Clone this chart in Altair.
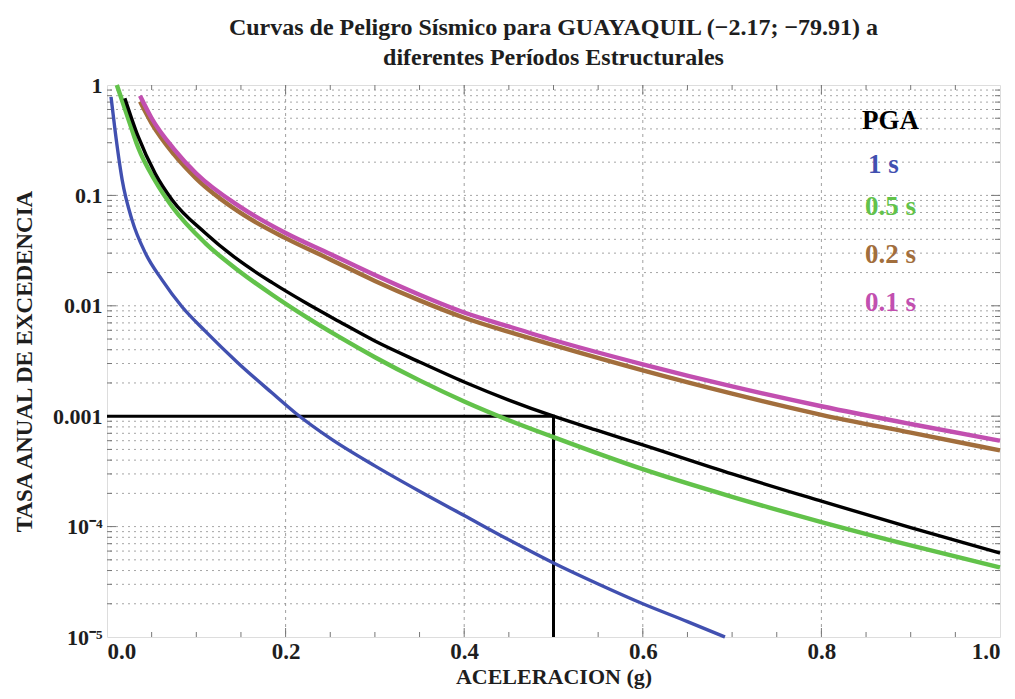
import math
import altair as alt
import pandas as pd

# ---------------- data ----------------
x_1s = [0.0045, 0.009, 0.017, 0.028, 0.043, 0.062, 0.084, 0.11, 0.147, 0.185, 0.211,
        0.25, 0.3, 0.35, 0.4, 0.45, 0.5, 0.55, 0.6, 0.65, 0.692]
y_1s = [0.78, 0.39, 0.138, 0.060, 0.030, 0.017, 0.0098, 0.00589, 0.00302, 0.00162, 0.00107,
        0.00063, 0.000355, 0.000209, 0.000126, 0.0000759, 0.0000468, 0.0000302, 0.00002, 0.0000138, 0.00001]

x_05s = [0.011, 0.024, 0.035, 0.054, 0.073, 0.11, 0.147, 0.185, 0.222, 0.26, 0.3, 0.35,
         0.4, 0.45, 0.5, 0.6, 0.7, 0.8, 0.9, 1.0]
y_05s = [1.0, 0.49, 0.27, 0.135, 0.079, 0.037, 0.0209, 0.0126, 0.00802, 0.00522, 0.00342, 0.00211,
         0.00136, 0.00092, 0.000646, 0.000331, 0.000186, 0.00011, 0.0000676, 0.0000427]

x_pga = [0.02, 0.035, 0.054, 0.073, 0.11, 0.147, 0.185, 0.222, 0.26, 0.3, 0.35, 0.4,
         0.45, 0.5, 0.55, 0.6, 0.7, 0.8, 0.9, 1.0]
y_pga = [0.76, 0.34, 0.158, 0.091, 0.0457, 0.026, 0.0162, 0.0107, 0.0072, 0.0048, 0.0031, 0.00204,
         0.0014, 0.001, 0.00074, 0.00055, 0.0003, 0.00017, 0.0000977, 0.0000575]

x_02s = [0.037, 0.05, 0.075, 0.1, 0.15, 0.2, 0.25, 0.3, 0.35, 0.4, 0.45, 0.5, 0.6, 0.7, 0.8, 0.9, 1.0]
y_02s = [0.71, 0.45, 0.235, 0.142, 0.069, 0.041, 0.0263, 0.0168, 0.0112, 0.0078, 0.0058, 0.0044,
         0.0026, 0.0016, 0.00103, 0.00071, 0.00049]

x_01s = [0.037, 0.05, 0.075, 0.1, 0.15, 0.2, 0.25, 0.3, 0.35, 0.4, 0.45, 0.5, 0.6, 0.7, 0.8, 0.9, 1.0]
y_01s = [0.8, 0.5, 0.263, 0.158, 0.078, 0.0457, 0.0295, 0.019, 0.0126, 0.0087, 0.0065, 0.0049,
         0.00295, 0.00186, 0.00123, 0.00085, 0.0006]

# design point lines (0.001 annual rate at 0.5 g)
guide_x = [0.0, 0.5, 0.5]
guide_y = [0.001, 0.001, 0.00001]

series_names = ["1 s", "0.5 s", "PGA", "0.2 s", "0.1 s"]
series_colors = ["#4150b0", "#62c24a", "#000000", "#a26e3c", "#c24fb0"]
series_widths = [3.4, 4.4, 3.4, 4.4, 4.4]

legend_labels = ["PGA", "1 s", "0.5 s", "0.2 s", "0.1 s"]
legend_colors = ["#000000", "#4150b0", "#62c24a", "#a26e3c", "#c24fb0"]
legend_x = [0.8775, 0.8695, 0.8775, 0.8775, 0.8775]
legend_y = [0.47, 0.188, 0.0785, 0.0288, 0.0106]

x_tick_values = [0.0, 0.2, 0.4, 0.6, 0.8, 1.0]
y_tick_values = [1, 0.1, 0.01, 0.001, 0.0001, 0.00001]
y_tick_labels = ["1", "0.1", "0.01", "0.001", "10⁻⁴", "10⁻⁵"]

title_lines = ["Curvas de Peligro Sísmico para GUAYAQUIL (−2.17; −79.91) a",
               "diferentes Períodos Estructurales"]
x_title = "ACELERACION (g)"
y_title = "TASA ANUAL DE EXCEDENCIA"

# ---------------- chart ----------------
W, H = 893, 552
FONT = "Liberation Serif"
TXT = "#1e1e1e"

xs = alt.Scale(domain=[0, 1], nice=False)
ys = alt.Scale(type="log", domain=[1e-5, 1], nice=False)

label_expr = " : ".join(
    f"datum.value > {v * 0.5} ? '{l}'" for v, l in zip(y_tick_values[:-1], y_tick_labels[:-1])
) + f" : '{y_tick_labels[-1]}'"

x_axis = alt.Axis(values=x_tick_values, format=".1f", grid=False, ticks=False, domain=False,
                  labelFont=FONT, labelFontSize=23, labelFontWeight="bold", labelColor=TXT,
                  labelAlign={"expr": "datum.value == 0 ? 'left' : datum.value == 1 ? 'right' : 'center'"},
                  labelPadding=3, title=x_title, titleFont=FONT, titleFontSize=22,
                  titleFontWeight="bold", titleColor=TXT, titlePadding=3)
y_axis = alt.Axis(values=y_tick_values, labelExpr=label_expr, grid=False, ticks=False, domain=False,
                  labelFont=FONT, labelFontSize=22, labelFontWeight="bold", labelColor=TXT,
                  labelPadding=5, title=y_title, titleFont=FONT, titleFontSize=23,
                  titleFontWeight="bold", titleColor=TXT, titlePadding=16)

# grid lines
grid_y_vals = []
for e in range(-5, 0):
    for m in range(1, 10):
        grid_y_vals.append(m * 10.0 ** e)
grid_y_vals = grid_y_vals[1:]
grid_y_df = pd.DataFrame({"y": grid_y_vals})
grid_x_df = pd.DataFrame({"x": [0.2, 0.4, 0.6, 0.8]})

hgrid = alt.Chart(grid_y_df).mark_rule(color="#8f8f8f", strokeWidth=1, strokeDash=[2, 4], opacity=0.8).encode(
    y=alt.Y("y:Q", scale=ys, axis=y_axis))
vgrid = alt.Chart(grid_x_df).mark_rule(color="#8f8f8f", strokeWidth=1, strokeDash=[3, 4], opacity=0.85).encode(
    x=alt.X("x:Q", scale=xs, axis=x_axis))

# inward frame ticks
xt_vals = [round(0.05 * i, 2) for i in range(1, 20)]
xt_df = pd.DataFrame({"x": xt_vals, "major": [abs(v * 5 - round(v * 5)) < 1e-9 for v in xt_vals]})
yt_df = pd.DataFrame({"y": grid_y_vals,
                      "major": [abs(v - 10 ** round(math.log10(v))) < 1e-12 for v in grid_y_vals]})

tick_color = "#777"
def xticks(major, y0, y1):
    return alt.Chart(xt_df).transform_filter(
        alt.datum.major if major else ~alt.datum.major).mark_rule(color=tick_color, strokeWidth=1).encode(
        x=alt.X("x:Q", scale=xs, axis=x_axis), y=alt.value(y0), y2=alt.value(y1))

def yticks(major, x0, x1):
    return alt.Chart(yt_df).transform_filter(
        alt.datum.major if major else ~alt.datum.major).mark_rule(color=tick_color, strokeWidth=1).encode(
        y=alt.Y("y:Q", scale=ys, axis=y_axis), x=alt.value(x0), x2=alt.value(x1))

ticks = [xticks(True, H, H - 9), xticks(False, H, H - 5), xticks(True, 0, 9), xticks(False, 0, 5),
         yticks(True, 0, 9), yticks(False, 0, 5), yticks(True, W, W - 9), yticks(False, W, W - 5)]

# curves
curve_data = {
    "1 s": (x_1s, y_1s),
    "0.5 s": (x_05s, y_05s),
    "PGA": (x_pga, y_pga),
    "0.2 s": (x_02s, y_02s),
    "0.1 s": (x_01s, y_01s),
}
curves = []
for name, col, sw in zip(series_names, series_colors, series_widths):
    xv, yv = curve_data[name]
    df = pd.DataFrame({"x": xv, "y": yv, "serie": name})
    curves.append(alt.Chart(df).mark_line(color=col, strokeWidth=sw, interpolate="monotone").encode(
        x=alt.X("x:Q", scale=xs, axis=x_axis), y=alt.Y("y:Q", scale=ys, axis=y_axis)))

guide = alt.Chart(pd.DataFrame({"x": guide_x, "y": guide_y, "o": [0, 1, 2]})).mark_line(
    color="#000", strokeWidth=3).encode(
    x=alt.X("x:Q", scale=xs, axis=x_axis), y=alt.Y("y:Q", scale=ys, axis=y_axis), order="o:Q")

legend_df = pd.DataFrame({"label": legend_labels, "color": legend_colors, "x": legend_x, "y": legend_y})
legend = alt.Chart(legend_df).mark_text(font=FONT, fontSize=27, fontWeight="bold", align="center",
                                        baseline="middle").encode(
    x=alt.X("x:Q", scale=xs, axis=x_axis), y=alt.Y("y:Q", scale=ys, axis=y_axis),
    text="label:N", color=alt.Color("color:N", scale=None))

chart = alt.layer(hgrid, vgrid, *ticks, guide, *curves, legend).properties(
    width=W, height=H,
    title=alt.TitleParams(text=title_lines, font=FONT, fontSize=24, fontWeight="bold", color=TXT,
                          anchor="middle", lineHeight=30, offset=4),
    padding={"left": 99, "top": 77, "right": 5, "bottom": 54},
    autosize=alt.AutoSizeParams(type="none"),
).configure_view(stroke="#888", strokeWidth=1.5).configure(background="white")

chart.save("out.html", embed_options={"renderer": "svg", "actions": False})
